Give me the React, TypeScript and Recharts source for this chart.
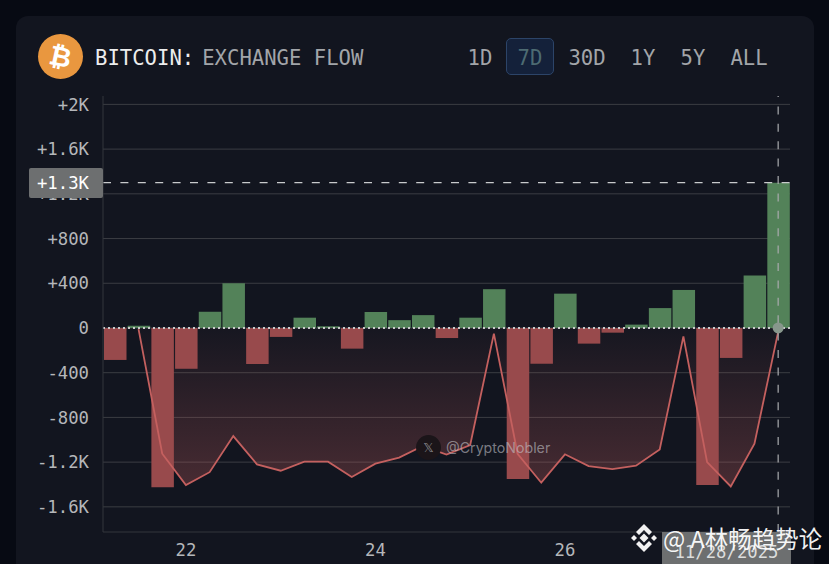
import { Area, Bar, CartesianGrid, Cell, ComposedChart, Line, ReferenceDot, ReferenceLine, XAxis, YAxis } from 'recharts'

const MONO = '"DejaVu Sans Mono", monospace'

// 6 hour samples, day-hour
const categories = [
  '21-06', '21-12', '21-18', '22-00', '22-06', '22-12', '22-18', '23-00', '23-06', '23-12',
  '23-18', '24-00', '24-06', '24-12', '24-18', '25-00', '25-06', '25-12', '25-18', '26-00',
  '26-06', '26-12', '26-18', '27-00', '27-06', '27-12', '27-18', '28-00', '28-06',
]
const flowValues = [
  -286, 20, -1425, -365, 145, 400, -322, -80, 92, 15,
  -185, 143, 70, 115, -90, 92, 347, -1350, -320, 307,
  -140, -42, 30, 178, 340, -1405, -268, 470, 1300,
]
const balanceValues = [
  null, -10, -1125, -1405, -1290, -967, -1220, -1277, -1196, -1196,
  -1333, -1214, -1160, -1056, -1133, -1047, -50, -1125, -1384, -1130,
  -1235, -1262, -1232, -1086, -75, -1200, -1417, -1035, -35,
]
const yTicks = [2000, 1600, 1200, 800, 400, 0, -400, -800, -1200, -1600]
const yTickLabels = ['+2K', '+1.6K', '+1.2K', '+800', '+400', '0', '-400', '-800', '-1.2K', '-1.6K']
const xTicks = ['22-00', '24-00', '26-00']
const ranges = [
  { label: '1D', center: 480 },
  { label: '7D', center: 530 },
  { label: '30D', center: 587 },
  { label: '1Y', center: 643 },
  { label: '5Y', center: 693 },
  { label: 'ALL', center: 749 },
]

const data = categories.map((day, i) => ({ day, flow: flowValues[i], balance: balanceValues[i] }))

export default function App() {
  return (
    <div style={{ position: 'absolute', left: 0, top: 0, width: 829, height: 564, overflow: 'hidden', background: '#070a13' }}>
      <div style={{ position: 'absolute', left: 16, top: 16, width: 798, height: 600, background: '#12151f', borderRadius: 12 }} />

      <ComposedChart
        width={829}
        height={564}
        data={data}
        margin={{ top: 96, right: 39, bottom: 0, left: 0 }}
        barCategoryGap={0}
        style={{ position: 'absolute', left: 0, top: 0 }}
      >
        <defs>
          <linearGradient id="balanceFill" x1="0" y1="0" x2="0" y2="1">
            <stop offset="0%" stopColor="#c65f5f" stopOpacity={0.04} />
            <stop offset="100%" stopColor="#c65f5f" stopOpacity={0.5} />
          </linearGradient>
        </defs>
        <CartesianGrid horizontal vertical={false} syncWithTicks stroke="#3b3d43" />
        <XAxis
          dataKey="day"
          ticks={xTicks}
          interval={0}
          height={32}
          tickFormatter={(v: string) => v.slice(0, 2)}
          tick={{ fill: '#b5b7ba', fontSize: 17.3, fontFamily: MONO }}
          tickLine={false}
          tickSize={0}
          tickMargin={12}
          axisLine={{ stroke: '#33363d' }}
        />
        <YAxis
          type="number"
          domain={[-1825, 2075]}
          ticks={yTicks}
          interval={0}
          width={103}
          tickFormatter={(v: number) => yTickLabels[yTicks.indexOf(v)]}
          tick={{ fill: '#b5b7ba', fontSize: 17.3, fontFamily: MONO }}
          tickLine={false}
          tickSize={0}
          tickMargin={14}
          axisLine={{ stroke: '#33363d' }}
        />
        <Area
          dataKey="balance"
          type="linear"
          stroke="none"
          fill="url(#balanceFill)"
          dot={false}
          activeDot={false}
          isAnimationActive={false}
        />
        <Bar dataKey="flow" barSize={22.5} isAnimationActive={false}>
          {data.map((d) => (
            <Cell key={d.day} fill={d.flow >= 0 ? '#538259' : '#984a4c'} />
          ))}
        </Bar>
        <Line
          dataKey="balance"
          type="linear"
          stroke="#c4605f"
          strokeWidth={1.8}
          dot={false}
          activeDot={false}
          legendType="none"
          isAnimationActive={false}
        />
        <ReferenceLine y={0} stroke="#c9cbcc" strokeDasharray="2 3" strokeWidth={2} />
        <ReferenceLine y={1300} stroke="#c8cacc" strokeWidth={1.2} strokeDasharray="8 9.4" />
        <ReferenceLine x="28-06" stroke="#a9abae" strokeWidth={1.2} strokeDasharray="8 9.4" />
        <ReferenceDot x="28-06" y={0} r={5.5} fill="#87978c" stroke="none" />
      </ComposedChart>

      {/* header */}
      <div style={{ position: 'absolute', left: 38, top: 34, width: 45, height: 45, borderRadius: '50%', background: '#e9973f' }}>
        <div style={{ position: 'absolute', left: 0, top: 0, width: 45, height: 45, lineHeight: '45px', textAlign: 'center', color: '#fff', fontFamily: '"DejaVu Sans", sans-serif', fontWeight: 700, fontSize: 27, transform: 'rotate(12deg)' }}>
          ₿
        </div>
      </div>
      <div style={{ position: 'absolute', left: 95, top: 45, lineHeight: '26px', fontFamily: MONO, fontSize: 20.6, whiteSpace: 'pre' }}>
        <span style={{ color: '#eceded' }}>BITCOIN:</span>
        <span style={{ color: '#a2a5a9', marginLeft: 8 }}>EXCHANGE FLOW</span>
      </div>
      <div style={{ position: 'absolute', left: 506, top: 38, width: 48, height: 37, boxSizing: 'border-box', background: '#14213a', border: '1px solid #2c4468', borderRadius: 5 }} />
      {ranges.map((r) => (
        <div
          key={r.label}
          style={{
            position: 'absolute', left: r.center - 30, top: 45, width: 60, textAlign: 'center', lineHeight: '26px',
            fontFamily: MONO, fontSize: 20.6, color: r.label === '7D' ? '#4d6b72' : '#a2a5a9',
          }}
        >
          {r.label}
        </div>
      ))}

      {/* crosshair labels */}
      <div style={{ position: 'absolute', left: 29, top: 168, width: 74, height: 30, lineHeight: '30px', background: '#6d6f70', borderRadius: 2, color: '#fff', fontFamily: MONO, fontSize: 17.3, textAlign: 'right', paddingRight: 14, boxSizing: 'border-box' }}>
        +1.3K
      </div>
      <div style={{ position: 'absolute', left: 662, top: 532, width: 129, height: 32, lineHeight: '40px', background: '#6d6f70', color: '#dcdddd', fontFamily: MONO, fontSize: 17.3, textAlign: 'center' }}>
        11/28/2025
      </div>

      {/* watermarks */}
      <div style={{ position: 'absolute', left: 416, top: 435, width: 25, height: 25, lineHeight: '25px', borderRadius: '50%', background: '#1b1519', color: '#8b8b8e', fontFamily: '"DejaVu Sans", sans-serif', fontSize: 13, textAlign: 'center' }}>
        𝕏
      </div>
      <div style={{ position: 'absolute', left: 446, top: 440, lineHeight: '16px', color: 'rgba(190,190,195,0.62)', fontFamily: '"Inter", sans-serif', fontSize: 14.2 }}>
        @CryptoNobler
      </div>
      <svg width={30} height={30} viewBox="0 0 30 30" style={{ position: 'absolute', left: 629, top: 523 }}>
        <g fill="#f2f2f2">
          <path d="M15 10.5 19.5 15 15 19.5 10.5 15Z" />
          <path d="M5 12 8 15 5 18 2 15Z" />
          <path d="M25 12 28 15 25 18 22 15Z" />
          <path d="M15 1 23 9 20 12 15 7 10 12 7 9Z" />
          <path d="M15 29 23 21 20 18 15 23 10 18 7 21Z" />
        </g>
      </svg>
      <div style={{ position: 'absolute', left: 663, top: 521, lineHeight: '34px', color: 'rgba(255,255,255,0.95)', fontFamily: '"Noto Sans CJK SC", sans-serif', fontSize: 23.5, whiteSpace: 'pre' }}>
        @ A林畅趋势论
      </div>
    </div>
  )
}
